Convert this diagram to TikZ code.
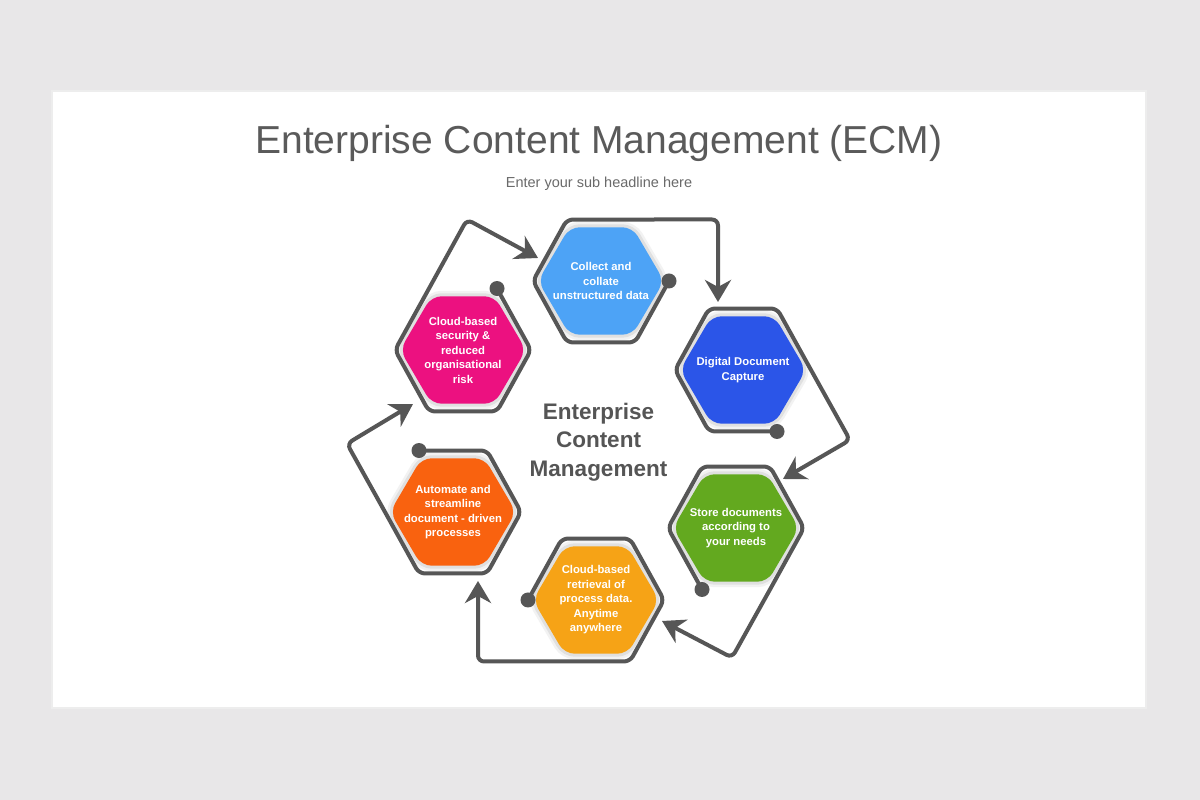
\documentclass[tikz,border=0pt]{standalone}
\usepackage{fontspec}
\setmainfont{Liberation Sans}
\usetikzlibrary{arrows.meta}
\definecolor{bgc}{HTML}{E8E7E8}
\definecolor{lineg}{HTML}{565656}
\definecolor{titleg}{HTML}{5A5A5A}
\definecolor{subg}{HTML}{6A6A6A}
\definecolor{centerg}{HTML}{555555}
\definecolor{cA}{HTML}{4DA3F6}
\definecolor{cB}{HTML}{2B55E8}
\definecolor{cC}{HTML}{63A91F}
\definecolor{cD}{HTML}{F6A316}
\definecolor{cE}{HTML}{F9620F}
\definecolor{cF}{HTML}{EC1180}
\tikzset{
  conn/.style={draw=lineg, line width=4pt, rounded corners=6pt,
    -{Stealth[length=22pt,width=26pt,inset=7pt]}},
  haloA/.style={draw=black!5, line width=11pt, rounded corners=10pt},
  haloB/.style={draw=black!12, line width=6pt, rounded corners=10pt},
  hextext/.style={text=white, font=\bfseries\fontsize{11.3}{14.5}\selectfont, align=center},
  ctext/.style={text=centerg, font=\bfseries\fontsize{22.5}{27}\selectfont, anchor=base},
}
% #1 center name, #2 x radius, #3 y radius, #4 style
\newcommand\hexshape[4]{%
  \path[#4] ([shift={(0,{0.8660254*#3})}]#1)
    -- ([shift={(60:#2 and #3)}]#1) -- ([shift={(0:#2 and #3)}]#1)
    -- ([shift={(-60:#2 and #3)}]#1) -- ([shift={(-120:#2 and #3)}]#1)
    -- ([shift={(180:#2 and #3)}]#1) -- ([shift={(120:#2 and #3)}]#1) -- cycle;}
% #1 center name, #2 dot angle, #3 dot name, #4 corner name, #5 tip name
\newcommand\hexconn[5]{%
  \draw[conn] (#3) -- ([shift={({#2-60}:68 and 71)}]#1)
    -- ([shift={({#2-120}:68 and 71)}]#1) -- ([shift={({#2-180}:68 and 71)}]#1)
    -- ([shift={({#2-240}:68 and 71)}]#1) -- ([shift={({#2-300}:68 and 71)}]#1)
    -- (#4) -- (#5);
  \fill[lineg] (#3) circle (7.5);}
\begin{document}
\begin{tikzpicture}[x=1pt,y=1pt]
\useasboundingbox (0,0) rectangle (1200,800);
\fill[bgc] (0,0) rectangle (1200,800);
\fill[black!7] (51,91) rectangle (1147,710);
\fill[white] (53,93) rectangle (1145,708);

\node[anchor=base, text=titleg, font=\fontsize{39}{44}\selectfont] (title) at (599,646)
  {Enterprise Content Management (ECM)};
\node[anchor=base, text=subg, font=\fontsize{14.5}{17}\selectfont] (sub) at (599,612)
  {Enter your sub headline here};

% centres
\coordinate (A) at (601,519);
\coordinate (B) at (743,430);
\coordinate (C) at (736,272);
\coordinate (D) at (596,200);
\coordinate (E) at (453,288);
\coordinate (F) at (463,450);
% dots
\coordinate (Ad) at ([shift={(0:68 and 71)}]A);
\coordinate (Bd) at ([shift={(-60:68 and 71)}]B);
\coordinate (Cd) at ([shift={(-120:68 and 71)}]C);
\coordinate (Dd) at ([shift={(180:68 and 71)}]D);
\coordinate (Ed) at ([shift={(120:68 and 71)}]E);
\coordinate (Fd) at ([shift={(60:68 and 71)}]F);
% corners and tips
\coordinate (Ac) at (718,580.5);  \coordinate (At) at (718,498);
\coordinate (Bc) at (850,360);    \coordinate (Bt) at (783,321);
\coordinate (Cc) at (732,142.3);  \coordinate (Ct) at (662,179);
\coordinate (Dc) at (478,138.5);  \coordinate (Dt) at (478,219);
\coordinate (Ec) at (347,356.3);  \coordinate (Et) at (413,396);
\coordinate (Fc) at (467,580.5);  \coordinate (Ft) at (538,542);

\foreach \h/\c in {A/cA,B/cB,C/cC,D/cD,E/cE,F/cF}{
  \hexshape{\h}{63}{62}{haloA}
  \hexshape{\h}{63}{62}{haloB}
  \hexshape{\h}{63}{62}{fill=\c, rounded corners=10pt}
}

\hexconn{A}{0}{Ad}{Ac}{At}
\hexconn{B}{-60}{Bd}{Bc}{Bt}
\hexconn{C}{-120}{Cd}{Cc}{Ct}
\hexconn{D}{180}{Dd}{Dc}{Dt}
\hexconn{E}{120}{Ed}{Ec}{Et}
\hexconn{F}{60}{Fd}{Fc}{Ft}

\node[hextext] (tA) at (A) {Collect and\\collate\\unstructured data};
\node[hextext] (tB) at (B) {Digital Document\\Capture};
\node[hextext] (tC) at (C) {Store documents\\according to\\your needs};
\node[hextext] (tD) at (D) {Cloud-based\\retrieval of\\process data.\\Anytime\\anywhere};
\node[hextext] (tE) at (E) {Automate and\\streamline\\document - driven\\processes};
\node[hextext] (tF) at (F) {Cloud-based\\security \&\\reduced\\organisational\\risk};

\node[ctext] (c1) at (598.5,380) {Enterprise};
\node[ctext] (c2) at (598.5,352) {Content};
\node[ctext] (c3) at (598.5,323.3) {Management};
\end{tikzpicture}
\end{document}
